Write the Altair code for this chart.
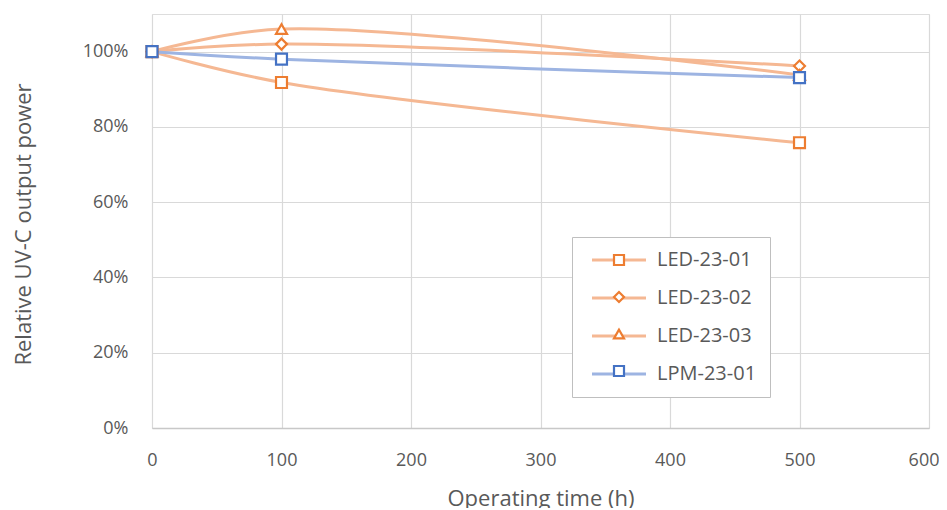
import altair as alt
import pandas as pd

hours = [0, 100, 500]
series_names = ["LED-23-01", "LED-23-02", "LED-23-03", "LPM-23-01"]
led01 = [1.000, 0.918, 0.758]
led02 = [1.000, 1.020, 0.962]
led03 = [1.000, 1.060, 0.938]
lpm01 = [1.000, 0.980, 0.931]

line_colors = ["#F5B893", "#F5B893", "#F5B893", "#9DB4E2"]
marker_colors = ["#ED7D31", "#ED7D31", "#ED7D31", "#4472C4"]
marker_shapes = ["square", "diamond", "triangle-up", "square"]

rows = []
for i, (name, vals) in enumerate(zip(series_names, [led01, led02, led03, lpm01])):
    for h, v in zip(hours, vals):
        rows.append({"hours": h, "power": v, "series": name, "series_m": name, "order": i})
df = pd.DataFrame(rows)

FONT = "Open Sans"
TXT = "#595959"

y_vals = [round(i * 0.05, 2) for i in range(0, 23)]

x_enc = alt.X(
    "hours:Q",
    scale=alt.Scale(domain=[0, 600], nice=False),
    axis=alt.Axis(
        values=[0, 100, 200, 300, 400, 500, 600],
        title="Operating time (h)",
        grid=True, gridColor="#d9d9d9", gridWidth=1.2,
        ticks=False, tickSize=0, domainColor="#c8c8c8", domainWidth=1.5,
        labelFlush=False,
        labelAlign={"condition": {"test": "datum.value == 600", "value": "right"}, "value": "center"},
        labelOffset={"condition": {"test": "datum.value == 600", "value": 10}, "value": 0},
        labelFont=FONT, labelFontSize=18, labelColor=TXT, labelPadding=23,
        titleFont=FONT, titleFontSize=22, titleFontWeight="normal", titleColor=TXT,
        titleY=77, titleBaseline="alphabetic",
    ),
)
y_enc = alt.Y(
    "power:Q",
    scale=alt.Scale(domain=[0, 1.1], nice=False),
    axis=alt.Axis(
        values=y_vals,
        title="Relative UV-C output power",
        grid=True,
        gridColor={"condition": {"test": "round(datum.value*100) % 20 == 0", "value": "#d9d9d9"}, "value": "#f0f0f0"},
        gridWidth=1.2,
        labelExpr="round(datum.value*100) % 20 == 0 ? format(datum.value, '.0%') : ''",
        ticks=False, tickSize=0, domain=False, labelFlush=False,
        labelFont=FONT, labelFontSize=18, labelColor=TXT, labelPadding=24,
        titleFont=FONT, titleFontSize=22, titleFontWeight="normal", titleColor=TXT,
        titleX=-129, titleY=210, titleBaseline="middle", titleAlign="center",
    ),
)

leg_common = dict(
    orient="none", legendX=420, legendY=223, title=None,
    symbolSize=100, symbolOffset=24, labelOffset=28,
    labelFont=FONT, labelFontSize=20, padding=13,
)

lines = alt.Chart(df).mark_line(interpolate="catmull-rom", strokeWidth=3).encode(
    x=x_enc, y=y_enc,
    color=alt.Color(
        "series:N",
        scale=alt.Scale(range=line_colors),
        legend=alt.Legend(
            symbolType="M-5.4,0H5.4", symbolStrokeWidth=3, labelColor=TXT, rowPadding=18,
            strokeColor="#bfbfbf", fillColor="white", **leg_common,
        ),
    ),
    order="order:Q",
)

marker_legend = dict(labelColor="transparent", symbolFillColor="white", symbolStrokeWidth=2.2, rowPadding=17, **leg_common)

points = alt.Chart(df).mark_point(filled=False, fill="white", strokeWidth=2.2, size=120, opacity=1).encode(
    x="hours:Q", y="power:Q",
    stroke=alt.Stroke("series_m:N", scale=alt.Scale(range=marker_colors), legend=alt.Legend(**marker_legend)),
    shape=alt.Shape("series_m:N", scale=alt.Scale(range=marker_shapes), legend=alt.Legend(**marker_legend)),
    order="order:Q",
)

chart = (
    alt.layer(lines, points)
    .properties(
        width=777, height=414,
        autosize=alt.AutoSizeParams(type="none"),
        padding={"left": 144, "top": 6, "right": 10, "bottom": 80},
    )
    .configure_view(stroke="#d9d9d9", strokeWidth=1.2)
    .configure(background="white")
)

chart.save("out.html", embed_options={"renderer": "svg", "actions": False})
